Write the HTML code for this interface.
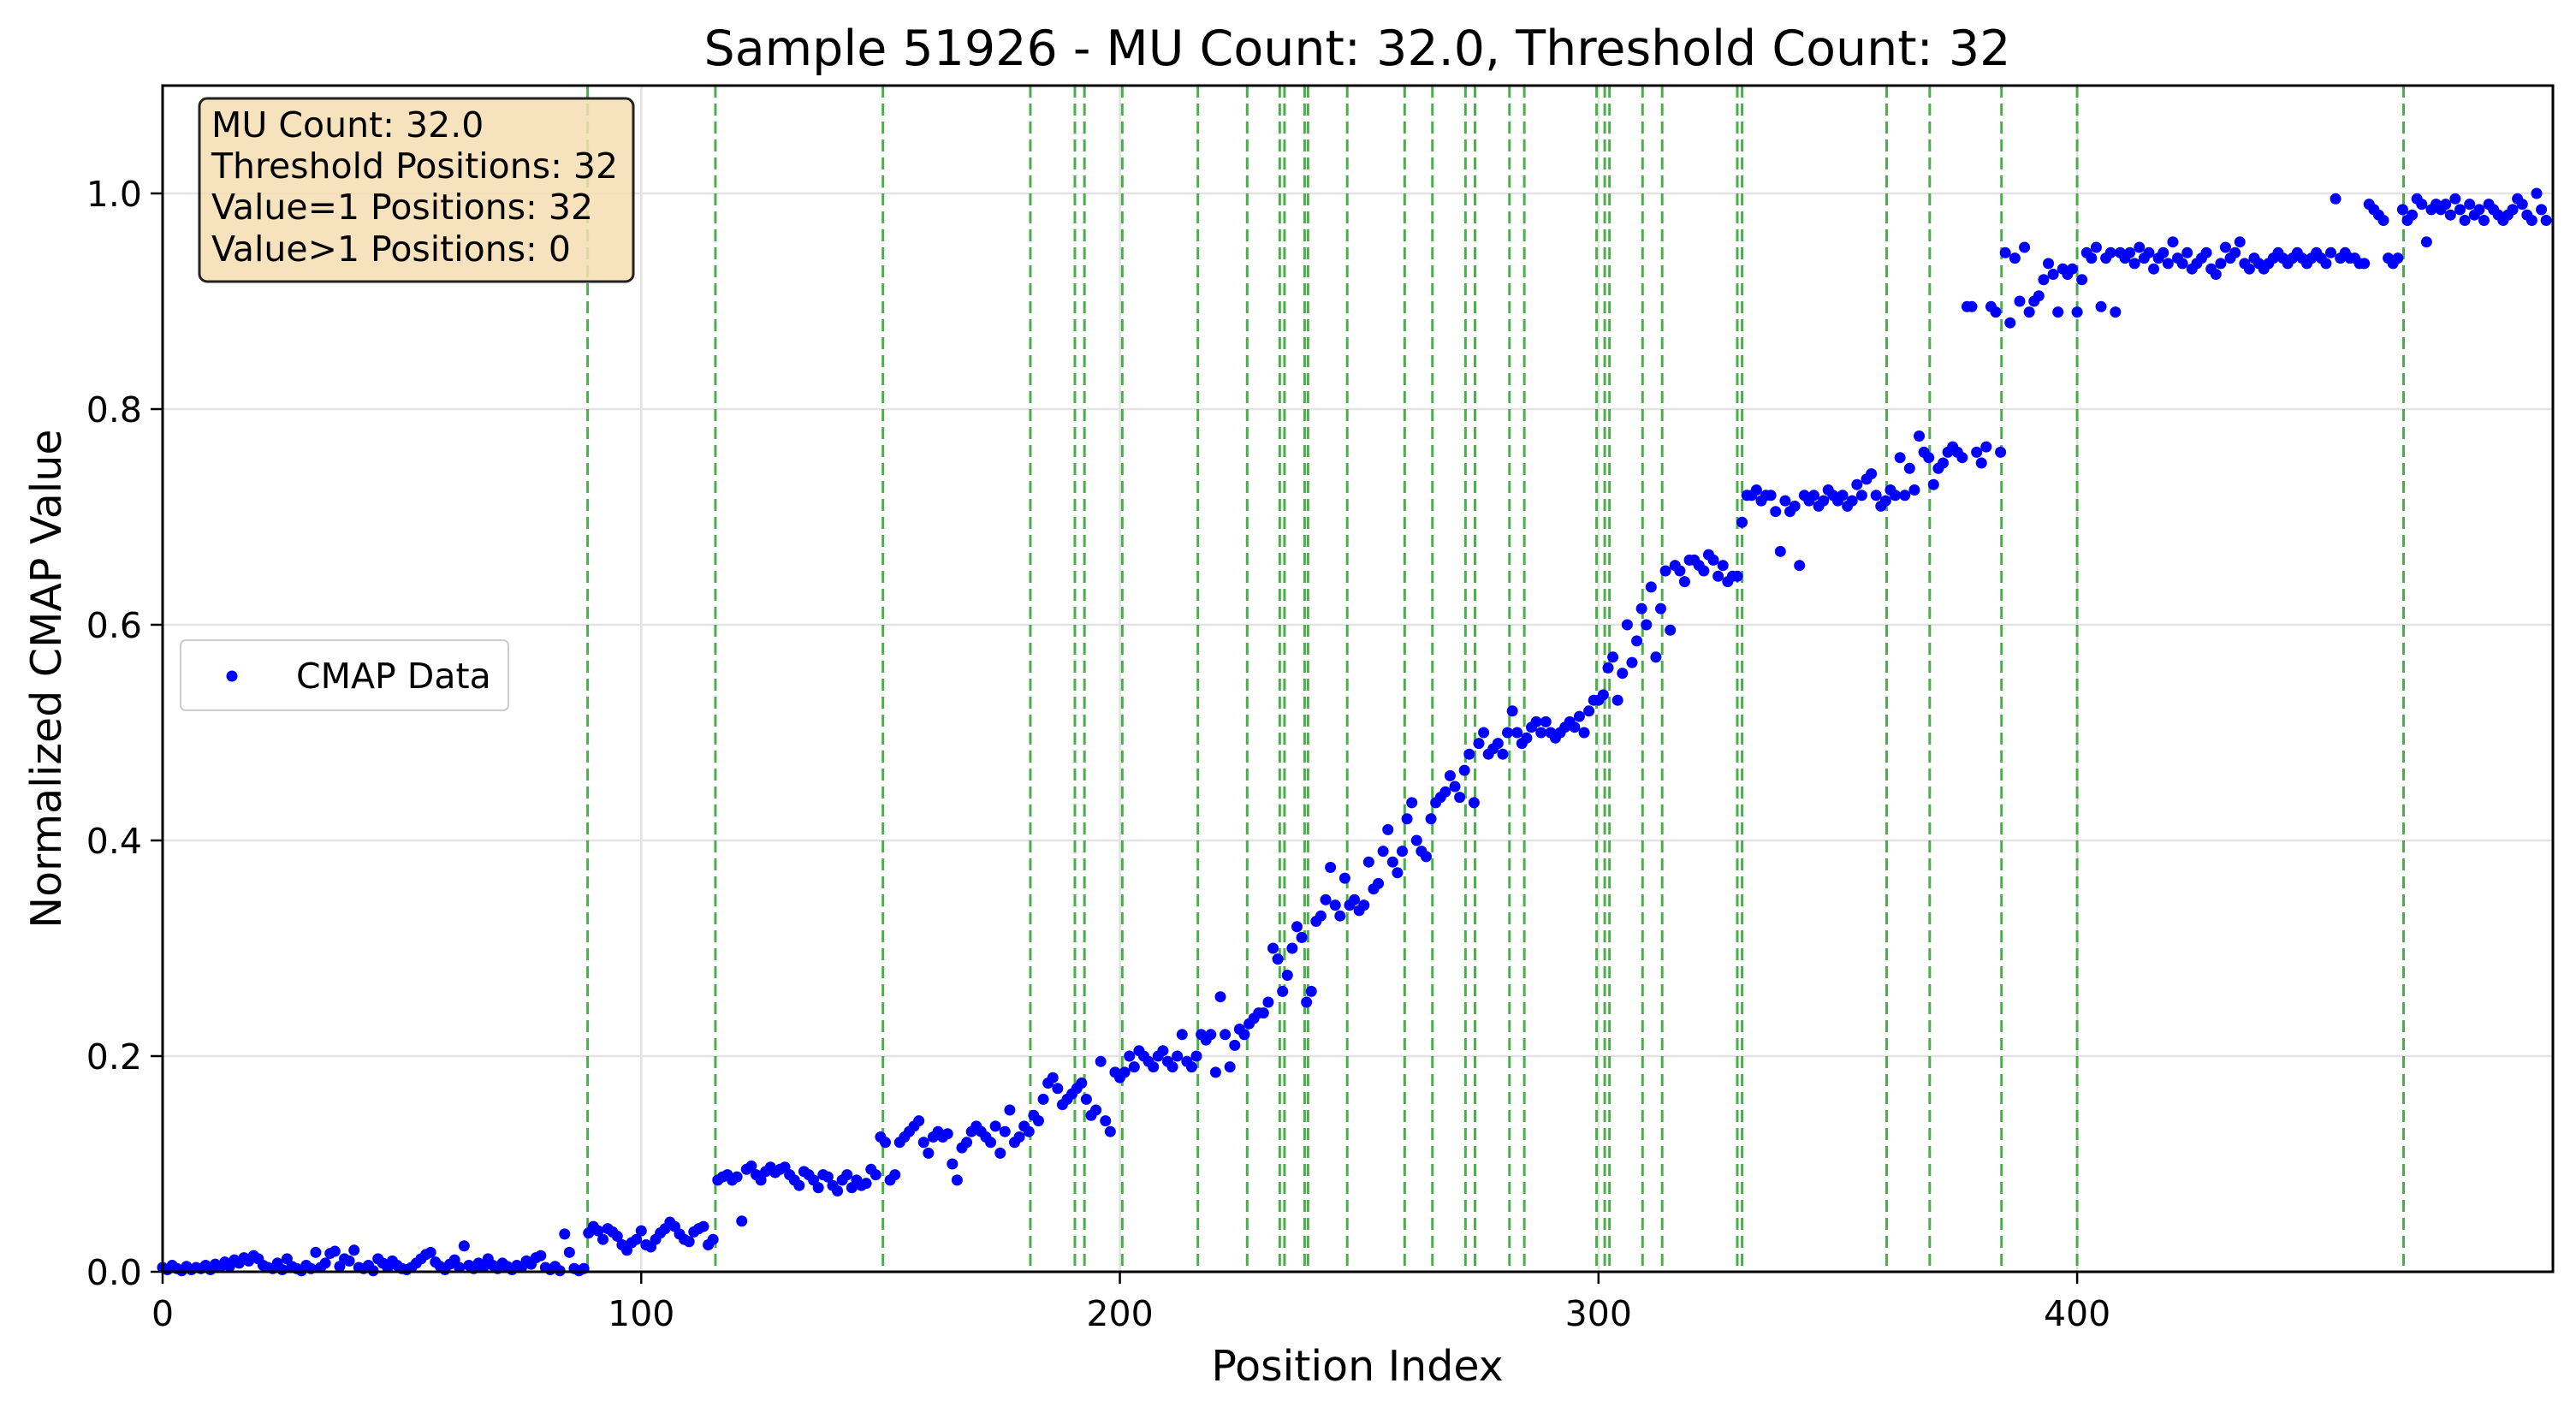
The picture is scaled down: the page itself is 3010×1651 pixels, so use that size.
<!DOCTYPE html>
<html><head><meta charset="utf-8"><style>
html,body{margin:0;padding:0;background:#fff;}
svg{display:block;font-family:"DejaVu Sans","Liberation Sans",sans-serif;}
</style></head><body>
<svg id="chart" width="3010" height="1651" viewBox="0 0 3010 1651" xmlns="http://www.w3.org/2000/svg" style="position:absolute;left:0;top:0">
<rect width="3010" height="1651" fill="#fff"/>
<g id="grid"></g><g id="vlines"></g><g id="points"></g><g id="axes"></g>
</svg>
<script>
const xTicks=[0,100,200,300,400];
const yTicks=[0.0,0.2,0.4,0.6,0.8,1.0];
const yTickLabels=["0.0","0.2","0.4","0.6","0.8","1.0"];
const thresholdPositions=[88.8,115.5,150.5,181.3,190.6,192.6,200.5,216.3,226.6,233.4,234.4,238.6,239.3,247.5,259.5,265.3,272.2,274.2,281.4,284.5,299.6,301.3,302.3,309.2,313.3,329,330,360.2,369.2,384.2,400,468.2];
const cmapValues=[
.004,.002,.006,.003,.001,.005,.002,.004,.003,.006,
.002,.007,.004,.009,.005,.011,.008,.013,.01,.015,
.012,.006,.004,.003,.008,.002,.012,.005,.003,.001,
.006,.003,.018,.004,.008,.017,.019,.005,.012,.01,
.02,.004,.003,.006,.001,.012,.008,.004,.01,.006,
.003,.002,.004,.008,.012,.016,.018,.009,.005,.002,
.007,.011,.004,.024,.006,.003,.008,.004,.012,.006,
.003,.008,.005,.002,.006,.004,.01,.007,.013,.015,
.004,.002,.005,.001,.035,.018,.003,.001,.003,.036,
.042,.038,.03,.04,.037,.033,.025,.02,.027,.03,
.038,.025,.023,.03,.036,.04,.046,.042,.035,.03,
.028,.037,.04,.042,.025,.03,.085,.088,.09,.085,
.088,.047,.095,.098,.09,.085,.093,.097,.092,.095,
.097,.09,.085,.08,.093,.09,.085,.078,.09,.088,
.08,.075,.085,.09,.078,.085,.08,.082,.095,.09,
.125,.12,.085,.09,.12,.125,.13,.135,.14,.12,
.11,.125,.13,.125,.128,.1,.085,.115,.12,.13,
.135,.13,.125,.12,.135,.11,.13,.15,.12,.125,
.135,.13,.145,.14,.16,.175,.18,.17,.155,.16,
.165,.17,.175,.16,.145,.15,.195,.14,.13,.185,
.18,.185,.2,.19,.205,.2,.195,.19,.2,.205,
.195,.19,.2,.22,.195,.19,.2,.22,.215,.22,
.185,.255,.22,.19,.21,.225,.22,.23,.235,.24,
.24,.25,.3,.29,.26,.275,.3,.32,.31,.25,
.26,.325,.33,.345,.375,.34,.33,.365,.34,.345,
.335,.34,.38,.355,.36,.39,.41,.38,.37,.39,
.42,.435,.4,.39,.385,.42,.435,.44,.445,.46,
.45,.44,.465,.48,.435,.49,.5,.48,.485,.49,
.48,.5,.52,.5,.49,.495,.505,.51,.5,.51,
.5,.495,.5,.505,.51,.505,.515,.5,.52,.53,
.53,.535,.56,.57,.53,.555,.6,.565,.585,.615,
.6,.635,.57,.615,.65,.595,.655,.65,.64,.66,
.66,.655,.65,.665,.66,.645,.655,.64,.645,.645,
.695,.72,.72,.725,.715,.72,.72,.705,.668,.715,
.705,.71,.655,.72,.715,.72,.71,.715,.725,.72,
.715,.72,.71,.715,.73,.72,.735,.74,.72,.71,
.715,.725,.72,.755,.72,.745,.725,.775,.76,.755,
.73,.745,.75,.76,.765,.76,.755,.895,.895,.76,
.75,.765,.895,.89,.76,.945,.88,.94,.9,.95,
.89,.9,.905,.92,.935,.925,.89,.93,.925,.93,
.89,.92,.945,.94,.95,.895,.94,.945,.89,.945,
.94,.945,.935,.95,.94,.945,.93,.94,.945,.935,
.955,.94,.935,.945,.93,.935,.94,.945,.93,.925,
.935,.95,.94,.945,.955,.935,.93,.94,.935,.93,
.935,.94,.945,.94,.935,.94,.945,.94,.935,.94,
.945,.94,.935,.945,.995,.94,.945,.94,.94,.935,
.935,.99,.985,.98,.975,.94,.935,.94,.985,.975,
.98,.995,.99,.955,.985,.99,.985,.99,.98,.995,
.985,.975,.99,.98,.985,.975,.99,.985,.98,.975,
.98,.985,.995,.99,.98,.975,1.0,.985,.975];
const NS="http://www.w3.org/2000/svg";
const L=190,R=2983,T=100,B=1486,XMAX=499.4,YMAX=1.1;
function xs(v){return L+(v/XMAX)*(R-L);}
function ys(v){return B-(v/YMAX)*(B-T);}
function mk(tag,attrs,parent){const e=document.createElementNS(NS,tag);for(const k in attrs)e.setAttribute(k,attrs[k]);parent.appendChild(e);return e;}
const grid=document.getElementById('grid'),vl=document.getElementById('vlines'),pts=document.getElementById('points'),ax=document.getElementById('axes');
xTicks.forEach(t=>{const g=mk('line',{x1:xs(t),x2:xs(t),y1:T,y2:B,stroke:'#e3e3e3','stroke-width':2.5},grid);

});
yTicks.forEach(t=>{const g=mk('line',{x1:L,x2:R,y1:ys(t),y2:ys(t),stroke:'#e3e3e3','stroke-width':2.5},grid);

});
thresholdPositions.forEach(p=>{const l=mk('line',{x1:xs(p),x2:xs(p),y1:T,y2:B,stroke:'#2ca02c','stroke-opacity':0.85,'stroke-width':3,'stroke-dasharray':'14,7'},vl);

});
cmapValues.forEach((v,i)=>{const c=mk('circle',{cx:xs(i),cy:ys(v),r:6.5,fill:'#0000ff'},pts);

});
const frame=mk('rect',{x:L,y:T,width:R-L,height:B-T,fill:'none',stroke:'#000','stroke-width':3},ax);


xTicks.forEach(t=>{mk('line',{x1:xs(t),x2:xs(t),y1:B,y2:B+14,stroke:'#000','stroke-width':2.5},ax);
const tx=mk('text',{x:xs(t),y:B+63,'font-size':41,'text-anchor':'middle',fill:'#000'},ax);tx.textContent=t;

});
yTicks.forEach((t,i)=>{mk('line',{x1:L-14,x2:L,y1:ys(t),y2:ys(t),stroke:'#000','stroke-width':2.5},ax);
const tx=mk('text',{x:L-24,y:ys(t)+15,'font-size':41,'text-anchor':'end',fill:'#000'},ax);tx.textContent=yTickLabels[i];

});
</script>
<svg style="position:absolute;left:0;top:0" width="3010" height="1651" xmlns="http://www.w3.org/2000/svg" font-family="DejaVu Sans, Liberation Sans, sans-serif">
<text x="1586" y="76" font-size="57" text-anchor="middle">Sample 51926 - MU Count: 32.0, Threshold Count: 32</text>
<text x="1586" y="1613" font-size="49" text-anchor="middle">Position Index</text>
<text x="0" y="0" font-size="49" text-anchor="middle" transform="translate(71,793) rotate(-90)">Normalized CMAP Value</text>
<g>
<rect x="233" y="115" width="507" height="214" rx="9" fill="#f5deb3" fill-opacity="0.85" stroke="#222" stroke-width="3"/>
<text x="247" y="160" font-size="41">MU Count: 32.0</text>
<text x="247" y="208" font-size="41">Threshold Positions: 32</text>
<text x="247" y="256" font-size="41">Value=1 Positions: 32</text>
<text x="247" y="305" font-size="41">Value&gt;1 Positions: 0</text>
</g>
<g>
<rect x="211" y="748" width="383" height="82" rx="6" fill="#fff" fill-opacity="0.85" stroke="#ccc" stroke-width="2"/>
<circle cx="271" cy="790" r="6.5" fill="#0000ff"/>
<text x="346" y="804" font-size="41">CMAP Data</text>
</g>
</svg>
</body></html>
